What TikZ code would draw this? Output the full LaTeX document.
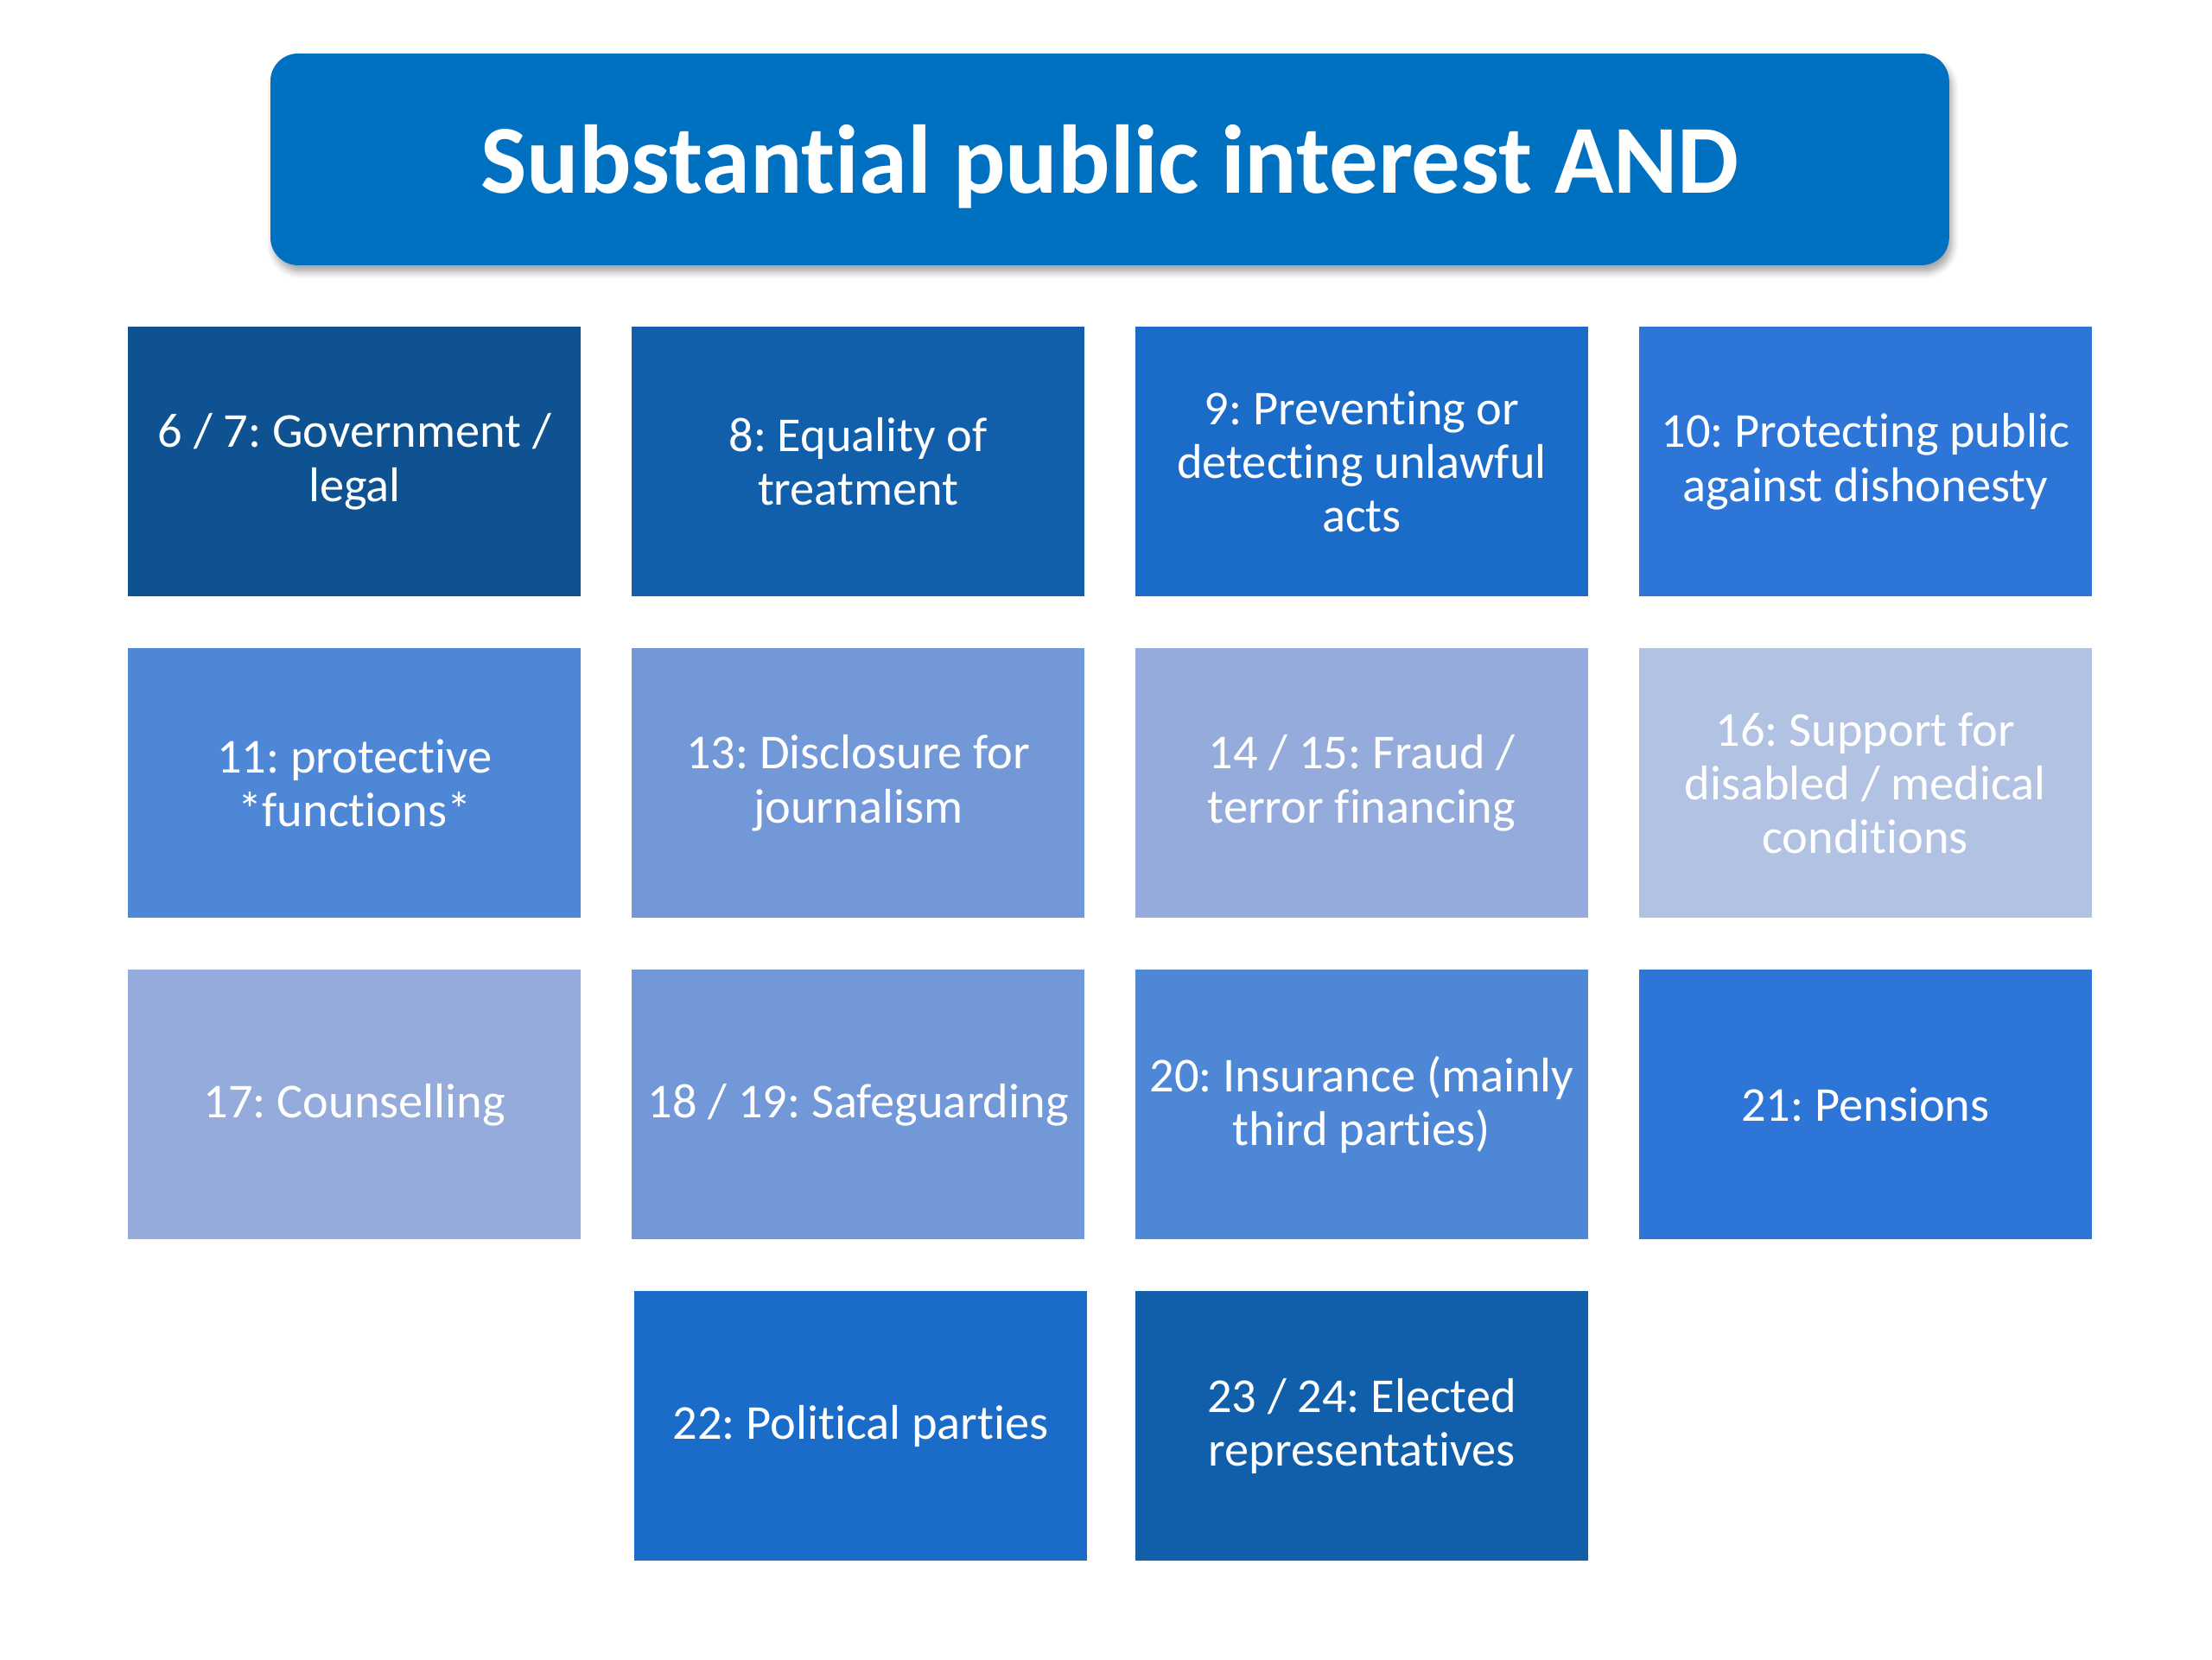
\documentclass[tikz,border=0pt]{standalone}
\usepackage{fontspec}
\setmainfont{Carlito}[Ligatures=NoCommon]
\usepackage{xcolor}
\usepackage{tikz}
\usetikzlibrary{positioning,shadows.blur}
\frenchspacing

\definecolor{titleblue}{RGB}{0,112,192}
\definecolor{shadeA}{RGB}{14,82,145}
\definecolor{shadeB}{RGB}{17,94,171}
\definecolor{shadeC}{RGB}{27,108,200}
\definecolor{shadeD}{RGB}{45,117,214}
\definecolor{shadeE}{RGB}{79,135,215}
\definecolor{shadeF}{RGB}{115,152,216}
\definecolor{shadeG}{RGB}{148,171,219}
\definecolor{shadeH}{RGB}{178,194,226}

\begin{document}
\begin{tikzpicture}[
  header/.style={rounded corners=8pt, fill=titleblue, text=white, minimum width=485.7pt, minimum height=61.25pt,
    text height=23pt, text depth=3.4pt,
    font=\fontsize{28.2}{32}\selectfont\bfseries, blur shadow={shadow xshift=0.8pt, shadow yshift=-2pt, shadow opacity=35, shadow blur steps=6}},
  tile/.style={fill=#1, text=white, align=center, minimum width=131pt, minimum height=78pt,
    inner sep=0pt, font=\fontsize{14.1}{15.6}\selectfont}
]
\useasboundingbox (0pt,0pt) rectangle (640pt,480pt);
\node[header] (title) at (321.1pt,433.9pt) {Substantial public interest AND};
% first row
\node[tile=shadeA, anchor=north west] (gov) at (36.9pt,385.6pt) {6 / 7: Government /\\legal};
\node[tile=shadeB, right=14.3pt of gov] (equality) {8: Equality of\\treatment};
\node[tile=shadeC, right=14.3pt of equality] (unlawful) {9: Preventing or\\detecting unlawful\\acts};
\node[tile=shadeD, right=14.3pt of unlawful] (dishonesty) {10: Protecting public\\against dishonesty};
% second row
\node[tile=shadeE, below=14.6pt of gov] (protective) {11: protective\\*functions*};
\node[tile=shadeF, right=14.3pt of protective] (journalism) {13: Disclosure for\\journalism};
\node[tile=shadeG, right=14.3pt of journalism] (fraud) {14 / 15: Fraud /\\terror financing};
\node[tile=shadeH, right=14.3pt of fraud] (disabled) {16: Support for\\disabled / medical\\conditions};
% third row
\node[tile=shadeG, below=14.6pt of protective] (counselling) {17: Counselling};
\node[tile=shadeF, right=14.3pt of counselling] (safeguarding) {18 / 19: Safeguarding};
\node[tile=shadeE, right=14.3pt of safeguarding] (insurance) {20: Insurance (mainly\\third parties)};
\node[tile=shadeD, right=14.3pt of insurance] (pensions) {21: Pensions};
% last row
\node[tile=shadeC, below=14.6pt of safeguarding, xshift=0.7pt] (parties) {22: Political parties};
\node[tile=shadeB, below=14.6pt of insurance] (elected) {23 / 24: Elected\\representatives};
\end{tikzpicture}
\end{document}
